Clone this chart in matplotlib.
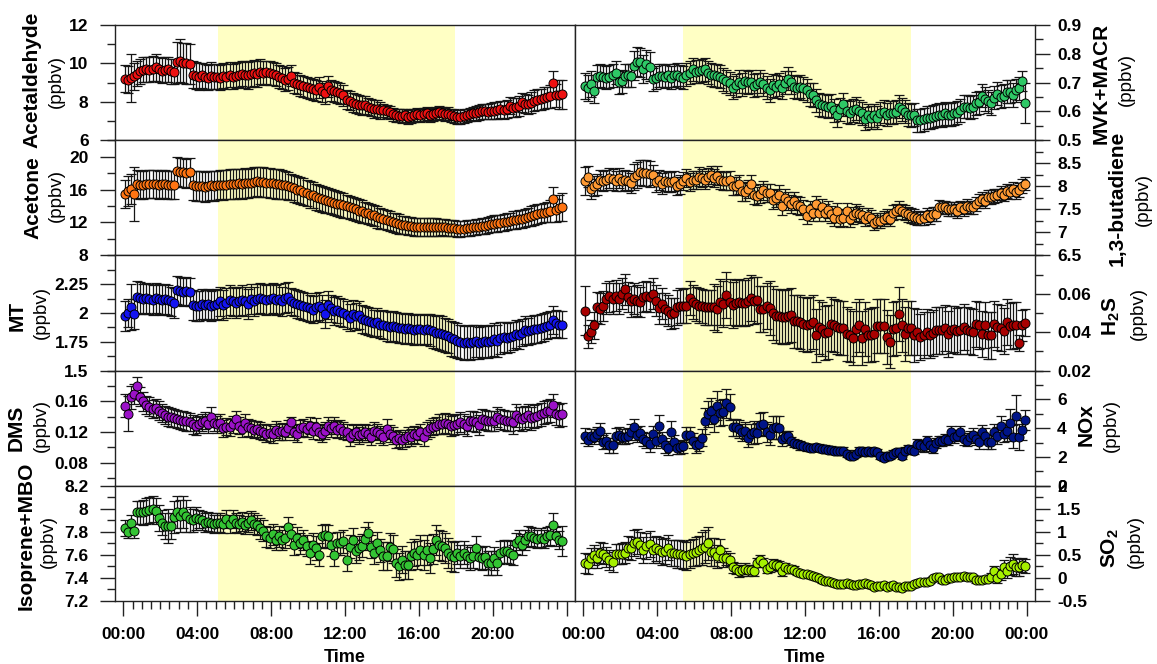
import numpy as np
import matplotlib
matplotlib.use("Agg")
import matplotlib.pyplot as plt
from matplotlib.ticker import FixedLocator, FixedFormatter, MultipleLocator

plt.rcParams['font.family'] = ['Liberation Sans', 'DejaVu Sans']
plt.rcParams['font.weight'] = 'bold'
plt.rcParams['mathtext.fontset'] = 'custom'
plt.rcParams['mathtext.rm'] = 'Liberation Sans:bold'
plt.rcParams['mathtext.bf'] = 'Liberation Sans:bold'

# 10-minute bins, hours of day
hoursLeft = (np.arange(143) * 10 + 5) / 60.0
hoursRight = (np.arange(144) * 10 + 5) / 60.0

# daytime shading (hours)
dayLeft = (5.15, 17.93)
dayRight = (5.42, 17.75)

# ---------------- left column ----------------
acetaldehyde = [
    9.2, 9.15, 9.25, 9.32, 9.45, 9.6,
    9.67, 9.7, 9.68, 9.72, 9.8, 9.7,
    9.62, 9.68, 9.7, 9.6, 9.57, 10.05,
    10.15, 10.02, 10.0, 9.98, 9.4, 9.35,
    9.3, 9.38, 9.3, 9.25, 9.35, 9.3,
    9.3, 9.25, 9.35, 9.3, 9.4, 9.3,
    9.35, 9.4, 9.45, 9.4, 9.38, 9.45,
    9.5, 9.45, 9.57, 9.5, 9.55, 9.5,
    9.45, 9.4, 9.3, 9.25, 9.15, 9.2,
    9.35, 9.0, 8.95, 8.87, 8.8, 8.75,
    8.7, 8.65, 8.6, 8.75, 8.55, 8.44,
    8.8, 8.6, 8.55, 8.5, 8.45, 8.35,
    8.1, 8.06, 7.95, 7.9, 7.85, 7.82,
    7.83, 7.75, 7.7, 7.62, 7.65, 7.55,
    7.55, 7.5, 7.45, 7.35, 7.3, 7.28,
    7.25, 7.3, 7.2, 7.25, 7.3, 7.35,
    7.3, 7.35, 7.4, 7.3, 7.35, 7.4,
    7.45, 7.4, 7.35, 7.38, 7.3, 7.25,
    7.2, 7.2, 7.25, 7.3, 7.35, 7.4,
    7.4, 7.45, 7.5, 7.5, 7.48, 7.52,
    7.54, 7.55, 7.6, 7.58, 7.62, 7.8,
    7.7, 7.72, 7.78, 7.97, 7.9, 7.88,
    7.95, 8.05, 8.1, 8.12, 8.2, 8.23,
    8.3, 8.98, 8.35, 8.38, 8.4]
acetaldehydeErr = [
    0.7, 0.7, 1.25, 0.7, 0.65, 0.65,
    0.65, 0.65, 0.65, 0.65, 0.7, 0.65,
    0.65, 0.65, 0.65, 0.65, 0.65, 1.05,
    1.1, 1.05, 1.05, 1.05, 0.7, 0.7,
    0.7, 0.65, 0.65, 0.65, 0.7, 0.65,
    0.65, 0.65, 0.65, 0.65, 0.65, 0.65,
    0.65, 0.65, 0.65, 0.7, 0.7, 0.7,
    0.7, 0.7, 0.65, 0.65, 0.6, 0.6,
    0.6, 0.6, 0.6, 0.6, 0.6, 0.6,
    0.55, 0.55, 0.55, 0.55, 0.55, 0.55,
    0.55, 0.55, 0.55, 0.55, 0.55, 0.55,
    0.55, 0.55, 0.55, 0.55, 0.55, 0.55,
    0.5, 0.5, 0.5, 0.5, 0.5, 0.5,
    0.45, 0.45, 0.45, 0.45, 0.45, 0.45,
    0.35, 0.35, 0.35, 0.35, 0.35, 0.35,
    0.35, 0.35, 0.35, 0.35, 0.35, 0.35,
    0.35, 0.35, 0.35, 0.35, 0.35, 0.35,
    0.35, 0.35, 0.35, 0.35, 0.35, 0.35,
    0.35, 0.35, 0.35, 0.35, 0.35, 0.35,
    0.4, 0.4, 0.4, 0.4, 0.4, 0.4,
    0.45, 0.45, 0.45, 0.45, 0.45, 0.45,
    0.5, 0.5, 0.5, 0.5, 0.5, 0.5,
    0.55, 0.55, 0.55, 0.55, 0.55, 0.55,
    0.6, 0.6, 0.6, 0.75, 0.75]

acetone = [
    15.45, 15.85, 16.1, 15.5, 16.65, 16.6,
    16.6, 16.65, 16.7, 16.65, 16.7, 16.6,
    16.65, 16.7, 16.6, 16.55, 16.5, 18.2,
    18.1, 18.1, 18.0, 18.1, 16.5, 16.45,
    16.4, 16.45, 16.3, 16.4, 16.5, 16.45,
    16.5, 16.6, 16.55, 16.6, 16.7, 16.65,
    16.7, 16.75, 16.7, 16.8, 16.75, 16.85,
    16.9, 17.0, 16.95, 16.9, 16.85, 16.8,
    16.75, 16.7, 16.65, 16.6, 16.5, 16.4,
    16.3, 16.15, 16.0, 15.9, 15.75, 15.6,
    15.4, 15.3, 15.1, 14.95, 14.85, 14.75,
    14.65, 14.55, 14.4, 14.3, 14.2, 14.1,
    14.0, 13.85, 13.7, 13.6, 13.45, 13.35,
    13.2, 13.1, 12.95, 12.85, 12.65, 12.5,
    12.4, 12.3, 12.2, 12.0, 11.9, 11.8,
    11.7, 11.65, 11.6, 11.55, 11.5, 11.5,
    11.45, 11.5, 11.45, 11.4, 11.5, 11.45,
    11.4, 11.45, 11.4, 11.35, 11.3, 11.3,
    11.2, 11.2, 11.25, 11.3, 11.35, 11.4,
    11.45, 11.5, 11.55, 11.6, 11.7, 11.8,
    11.85, 11.9, 11.95, 12.0, 12.1, 12.2,
    12.25, 12.3, 12.4, 12.45, 12.55, 12.65,
    12.8, 12.9, 13.0, 13.1, 13.2, 13.3,
    13.4, 14.8, 13.5, 13.8, 13.9]
acetoneErr = [
    1.7, 1.8, 1.8, 3.3, 1.7, 1.7,
    1.7, 1.7, 1.7, 1.7, 1.7, 1.7,
    1.7, 1.7, 1.7, 1.7, 1.7, 1.75,
    1.75, 1.75, 1.75, 1.75, 1.8, 1.8,
    1.8, 1.8, 1.8, 1.8, 1.8, 1.8,
    1.8, 1.8, 1.8, 1.8, 1.8, 1.8,
    1.8, 1.8, 1.8, 1.8, 1.8, 1.8,
    1.8, 1.8, 1.8, 1.8, 1.8, 1.8,
    1.8, 1.8, 1.8, 1.75, 1.7, 1.7,
    1.6, 1.6, 1.6, 1.6, 1.6, 1.6,
    1.6, 1.6, 1.6, 1.6, 1.6, 1.6,
    1.5, 1.5, 1.5, 1.5, 1.5, 1.5,
    1.4, 1.4, 1.4, 1.4, 1.4, 1.4,
    1.3, 1.3, 1.3, 1.3, 1.3, 1.3,
    1.2, 1.2, 1.2, 1.2, 1.2, 1.2,
    1.1, 1.1, 1.1, 1.1, 1.1, 1.1,
    1.1, 1.1, 1.1, 1.1, 1.1, 1.1,
    1.0, 1.0, 1.0, 1.0, 1.0, 1.0,
    0.95, 0.95, 0.95, 0.95, 0.95, 0.95,
    0.95, 0.95, 0.95, 0.95, 0.95, 0.95,
    1.0, 1.0, 1.0, 1.0, 1.0, 1.0,
    1.1, 1.1, 1.1, 1.1, 1.1, 1.1,
    1.2, 1.2, 1.2, 1.2, 1.2, 1.2,
    1.3, 1.5, 1.4, 1.6, 1.7]

mt = [
    1.97, 2.0, 2.05, 1.99, 2.14, 2.13,
    2.12, 2.13, 2.12, 2.11, 2.13, 2.12,
    2.11, 2.12, 2.11, 2.1, 2.09, 2.2,
    2.19, 2.18, 2.19, 2.18, 2.07, 2.06,
    2.06, 2.08, 2.07, 2.08, 2.06, 2.07,
    2.08, 2.1, 2.07, 2.09, 2.11, 2.1,
    2.09, 2.1, 2.11, 2.1, 2.08, 2.12,
    2.1, 2.12, 2.13, 2.12, 2.11, 2.12,
    2.13, 2.11, 2.12, 2.1, 2.13, 2.14,
    2.1, 2.09, 2.08, 2.07, 2.06, 2.05,
    2.04, 2.03, 2.05, 2.06, 2.04, 1.99,
    2.07, 2.04, 2.02, 2.03, 2.01, 2.0,
    1.98, 1.96, 1.99, 1.97, 1.98, 1.95,
    1.94, 1.93, 1.92, 1.91, 1.92, 1.9,
    1.9, 1.89, 1.88, 1.89, 1.88, 1.87,
    1.87, 1.86, 1.87, 1.86, 1.85, 1.86,
    1.86, 1.85, 1.86, 1.85, 1.84, 1.83,
    1.83, 1.82, 1.81, 1.8, 1.78, 1.77,
    1.76, 1.75, 1.74, 1.75, 1.74, 1.75,
    1.76, 1.74, 1.75, 1.76, 1.75, 1.76,
    1.77, 1.76, 1.78, 1.79, 1.78, 1.79,
    1.8, 1.82, 1.81, 1.83, 1.85, 1.84,
    1.85, 1.86, 1.86, 1.87, 1.88, 1.89,
    1.9, 1.94, 1.91, 1.9, 1.9]
mtErr = [
    0.13, 0.12, 0.2, 0.13, 0.14, 0.14,
    0.13, 0.13, 0.13, 0.13, 0.13, 0.13,
    0.13, 0.13, 0.13, 0.13, 0.13, 0.12,
    0.12, 0.12, 0.12, 0.12, 0.13, 0.13,
    0.13, 0.13, 0.13, 0.13, 0.13, 0.13,
    0.13, 0.13, 0.13, 0.13, 0.13, 0.13,
    0.13, 0.13, 0.13, 0.13, 0.13, 0.13,
    0.13, 0.13, 0.13, 0.13, 0.13, 0.13,
    0.13, 0.13, 0.13, 0.13, 0.13, 0.13,
    0.12, 0.12, 0.12, 0.12, 0.12, 0.12,
    0.12, 0.12, 0.12, 0.12, 0.12, 0.12,
    0.12, 0.12, 0.12, 0.12, 0.12, 0.12,
    0.12, 0.12, 0.12, 0.12, 0.12, 0.12,
    0.12, 0.12, 0.12, 0.12, 0.12, 0.12,
    0.13, 0.13, 0.13, 0.13, 0.13, 0.13,
    0.13, 0.13, 0.13, 0.13, 0.13, 0.13,
    0.13, 0.13, 0.13, 0.14, 0.14, 0.14,
    0.15, 0.15, 0.15, 0.15, 0.15, 0.15,
    0.15, 0.15, 0.15, 0.15, 0.15, 0.15,
    0.14, 0.14, 0.14, 0.14, 0.14, 0.14,
    0.14, 0.14, 0.14, 0.13, 0.13, 0.13,
    0.12, 0.12, 0.12, 0.12, 0.12, 0.12,
    0.12, 0.12, 0.12, 0.12, 0.12, 0.12,
    0.12, 0.12, 0.12, 0.12, 0.12]

dms = [
    0.154, 0.144, 0.165, 0.169, 0.18, 0.166,
    0.16, 0.155, 0.153, 0.15, 0.151, 0.148,
    0.145, 0.142, 0.14, 0.139, 0.138, 0.137,
    0.136, 0.135, 0.134, 0.133, 0.13, 0.128,
    0.13, 0.133, 0.135, 0.13, 0.14, 0.132,
    0.13, 0.132, 0.125, 0.127, 0.126, 0.13,
    0.137, 0.128, 0.124, 0.132, 0.126, 0.125,
    0.123, 0.124, 0.122, 0.12, 0.118, 0.119,
    0.117, 0.123, 0.12, 0.121, 0.12, 0.125,
    0.133, 0.12, 0.118, 0.125, 0.126, 0.124,
    0.128, 0.122, 0.127, 0.12, 0.118, 0.122,
    0.128, 0.125, 0.128, 0.123, 0.125, 0.122,
    0.12, 0.113, 0.118, 0.12, 0.116, 0.118,
    0.12, 0.118, 0.114, 0.122, 0.12, 0.117,
    0.114, 0.124, 0.118, 0.115, 0.11, 0.112,
    0.109, 0.112, 0.115, 0.113, 0.117, 0.116,
    0.12, 0.113, 0.122, 0.125, 0.127, 0.128,
    0.13, 0.131, 0.132, 0.13, 0.128, 0.129,
    0.131, 0.133, 0.13, 0.128, 0.135, 0.134,
    0.133, 0.129, 0.137, 0.136, 0.135, 0.134,
    0.134, 0.14, 0.137, 0.136, 0.134, 0.135,
    0.133, 0.142, 0.138, 0.137, 0.139, 0.142,
    0.138, 0.14, 0.141, 0.143, 0.145, 0.147,
    0.148, 0.155, 0.144, 0.142, 0.143]
dmsErr = [
    0.015, 0.023, 0.015, 0.013, 0.012, 0.012,
    0.012, 0.012, 0.012, 0.012, 0.012, 0.012,
    0.012, 0.012, 0.012, 0.012, 0.012, 0.012,
    0.012, 0.012, 0.012, 0.012, 0.012, 0.012,
    0.011, 0.011, 0.011, 0.011, 0.013, 0.011,
    0.011, 0.011, 0.011, 0.011, 0.011, 0.011,
    0.011, 0.011, 0.011, 0.011, 0.011, 0.011,
    0.011, 0.011, 0.011, 0.011, 0.011, 0.011,
    0.011, 0.011, 0.011, 0.011, 0.011, 0.011,
    0.007, 0.011, 0.011, 0.011, 0.011, 0.011,
    0.011, 0.011, 0.011, 0.011, 0.011, 0.011,
    0.011, 0.011, 0.011, 0.011, 0.011, 0.011,
    0.011, 0.011, 0.011, 0.011, 0.011, 0.011,
    0.011, 0.011, 0.011, 0.011, 0.011, 0.011,
    0.011, 0.013, 0.011, 0.011, 0.011, 0.011,
    0.011, 0.011, 0.011, 0.011, 0.011, 0.011,
    0.011, 0.011, 0.011, 0.011, 0.011, 0.011,
    0.013, 0.013, 0.013, 0.013, 0.013, 0.013,
    0.013, 0.013, 0.013, 0.013, 0.013, 0.013,
    0.013, 0.013, 0.013, 0.013, 0.013, 0.013,
    0.013, 0.013, 0.013, 0.013, 0.013, 0.013,
    0.015, 0.015, 0.015, 0.015, 0.015, 0.015,
    0.015, 0.015, 0.015, 0.015, 0.015, 0.015,
    0.015, 0.015, 0.015, 0.015, 0.015]

isoprene = [
    7.83, 7.8, 7.88, 7.81, 7.97, 7.97,
    7.97, 7.98, 7.99, 8.0, 7.98, 7.92,
    7.88, 7.85, 7.85, 7.85, 7.93, 7.97,
    7.94, 7.97, 7.94, 7.91, 7.9, 7.92,
    7.91, 7.9, 7.88, 7.89, 7.88, 7.87,
    7.88, 7.88, 7.87, 7.91, 7.87, 7.91,
    7.88, 7.87, 7.89, 7.86, 7.88, 7.9,
    7.87, 7.86, 7.83, 7.81, 7.76, 7.75,
    7.78, 7.73, 7.76, 7.73, 7.75, 7.84,
    7.78, 7.69, 7.75, 7.7, 7.73, 7.68,
    7.62, 7.69, 7.66, 7.6, 7.76, 7.77,
    7.76, 7.69, 7.6, 7.7, 7.7, 7.72,
    7.56, 7.67, 7.73, 7.63, 7.66, 7.68,
    7.74, 7.79, 7.67, 7.62, 7.7, 7.64,
    7.59, 7.59, 7.67, 7.65, 7.53, 7.5,
    7.56, 7.51, 7.51, 7.59, 7.62, 7.6,
    7.64, 7.6, 7.64, 7.57, 7.65, 7.73,
    7.69, 7.68, 7.66, 7.62, 7.59, 7.58,
    7.62, 7.59, 7.62, 7.59, 7.57, 7.59,
    7.66, 7.58, 7.57, 7.58, 7.53, 7.53,
    7.57, 7.53, 7.62, 7.63, 7.63, 7.62,
    7.6, 7.7, 7.73, 7.69, 7.73, 7.76,
    7.76, 7.75, 7.74, 7.75, 7.74, 7.76,
    7.77, 7.86, 7.76, 7.73, 7.72]
isopreneErr = [
    0.07, 0.05, 0.07, 0.06, 0.1, 0.1,
    0.11, 0.11, 0.11, 0.11, 0.11, 0.11,
    0.11, 0.11, 0.15, 0.11, 0.14, 0.14,
    0.14, 0.14, 0.14, 0.11, 0.1, 0.1,
    0.08, 0.08, 0.08, 0.08, 0.08, 0.08,
    0.08, 0.08, 0.08, 0.08, 0.08, 0.08,
    0.08, 0.08, 0.08, 0.08, 0.08, 0.08,
    0.09, 0.09, 0.09, 0.09, 0.09, 0.09,
    0.09, 0.09, 0.09, 0.09, 0.09, 0.09,
    0.09, 0.09, 0.09, 0.09, 0.09, 0.09,
    0.1, 0.1, 0.1, 0.1, 0.1, 0.1,
    0.1, 0.1, 0.1, 0.1, 0.1, 0.1,
    0.1, 0.1, 0.1, 0.1, 0.1, 0.1,
    0.1, 0.1, 0.1, 0.1, 0.1, 0.1,
    0.12, 0.12, 0.12, 0.12, 0.12, 0.12,
    0.12, 0.12, 0.12, 0.12, 0.12, 0.12,
    0.13, 0.13, 0.13, 0.13, 0.13, 0.13,
    0.13, 0.13, 0.13, 0.13, 0.13, 0.13,
    0.1, 0.1, 0.1, 0.1, 0.1, 0.1,
    0.1, 0.1, 0.1, 0.1, 0.1, 0.1,
    0.1, 0.1, 0.1, 0.1, 0.1, 0.1,
    0.09, 0.09, 0.09, 0.09, 0.09, 0.09,
    0.08, 0.08, 0.08, 0.08, 0.08, 0.08,
    0.08, 0.1, 0.08, 0.08, 0.13]

# ---------------- right column ----------------
mvk = [
    0.689, 0.68, 0.694, 0.67, 0.72, 0.724,
    0.72, 0.717, 0.72, 0.726, 0.735, 0.701,
    0.705, 0.724, 0.726, 0.724, 0.759, 0.772,
    0.77, 0.747, 0.763, 0.755, 0.712, 0.717,
    0.724, 0.724, 0.72, 0.726, 0.717, 0.726,
    0.728, 0.72, 0.717, 0.728, 0.735, 0.747,
    0.738, 0.74, 0.743, 0.747, 0.735, 0.728,
    0.726, 0.724, 0.72, 0.712, 0.705, 0.697,
    0.682, 0.691, 0.703, 0.694, 0.705, 0.701,
    0.703, 0.689, 0.694, 0.703, 0.694, 0.682,
    0.674, 0.691, 0.685, 0.694, 0.682, 0.7,
    0.714, 0.701, 0.685, 0.682, 0.685, 0.68,
    0.674, 0.659, 0.657, 0.639, 0.624, 0.621,
    0.619, 0.616, 0.619, 0.604, 0.587, 0.608,
    0.624, 0.601, 0.596, 0.604, 0.61, 0.601,
    0.593, 0.575, 0.587, 0.578, 0.587, 0.578,
    0.593, 0.599, 0.589, 0.596, 0.596, 0.599,
    0.616, 0.608, 0.599, 0.589, 0.587, 0.589,
    0.57, 0.57, 0.573, 0.578, 0.578, 0.582,
    0.585, 0.589, 0.587, 0.593, 0.589, 0.589,
    0.593, 0.596, 0.604, 0.616, 0.616, 0.612,
    0.616, 0.628, 0.631, 0.654, 0.643, 0.636,
    0.628, 0.647, 0.662, 0.651, 0.654, 0.668,
    0.668, 0.657, 0.674, 0.68, 0.705, 0.628]
mvkErr = [
    0.045, 0.045, 0.045, 0.04, 0.04, 0.04,
    0.04, 0.04, 0.04, 0.04, 0.04, 0.04,
    0.04, 0.04, 0.04, 0.04, 0.05, 0.05,
    0.05, 0.05, 0.05, 0.05, 0.04, 0.04,
    0.04, 0.04, 0.04, 0.04, 0.04, 0.04,
    0.04, 0.04, 0.04, 0.04, 0.04, 0.04,
    0.04, 0.04, 0.04, 0.04, 0.04, 0.04,
    0.04, 0.04, 0.04, 0.04, 0.04, 0.04,
    0.04, 0.04, 0.04, 0.04, 0.04, 0.04,
    0.04, 0.04, 0.04, 0.04, 0.04, 0.04,
    0.04, 0.04, 0.04, 0.04, 0.04, 0.04,
    0.04, 0.04, 0.04, 0.04, 0.04, 0.04,
    0.04, 0.04, 0.04, 0.04, 0.04, 0.04,
    0.04, 0.04, 0.04, 0.04, 0.04, 0.04,
    0.04, 0.04, 0.04, 0.04, 0.04, 0.04,
    0.04, 0.04, 0.04, 0.04, 0.04, 0.04,
    0.04, 0.04, 0.04, 0.04, 0.04, 0.04,
    0.04, 0.04, 0.04, 0.04, 0.04, 0.04,
    0.04, 0.04, 0.04, 0.04, 0.04, 0.04,
    0.04, 0.04, 0.04, 0.04, 0.04, 0.04,
    0.04, 0.04, 0.04, 0.04, 0.04, 0.04,
    0.04, 0.04, 0.04, 0.04, 0.04, 0.04,
    0.04, 0.04, 0.04, 0.04, 0.04, 0.04,
    0.04, 0.04, 0.04, 0.04, 0.035, 0.07]

butadiene = [
    8.11, 8.21, 7.94, 8.0, 8.04, 8.14,
    8.11, 8.14, 8.18, 8.15, 8.11, 8.18,
    8.11, 8.14, 8.11, 8.07, 8.2, 8.25,
    8.3, 8.29, 8.28, 8.27, 8.25, 8.09,
    8.14, 8.06, 8.11, 8.09, 8.1, 8.11,
    8.0, 8.04, 8.11, 8.18, 8.09, 8.14,
    8.14, 8.21, 8.18, 8.14, 8.2, 8.25,
    8.18, 8.23, 8.14, 8.11, 8.12, 8.13,
    8.01, 8.0, 8.04, 7.89, 7.87, 7.94,
    8.04, 7.82, 7.79, 7.84, 7.91, 7.86,
    7.86, 7.71, 7.75, 7.82, 7.57, 7.75,
    7.68, 7.61, 7.68, 7.59, 7.57, 7.5,
    7.36, 7.5, 7.43, 7.61, 7.43, 7.54,
    7.43, 7.49, 7.39, 7.32, 7.46, 7.3,
    7.32, 7.46, 7.3, 7.37, 7.43, 7.4,
    7.37, 7.29, 7.36, 7.32, 7.21, 7.25,
    7.25, 7.3, 7.34, 7.29, 7.43, 7.46,
    7.51, 7.46, 7.43, 7.39, 7.36, 7.34,
    7.32, 7.3, 7.32, 7.37, 7.34, 7.39,
    7.39, 7.56, 7.54, 7.54, 7.51, 7.5,
    7.5, 7.46, 7.54, 7.5, 7.57, 7.54,
    7.54, 7.61, 7.68, 7.73, 7.68, 7.77,
    7.77, 7.79, 7.8, 7.86, 7.82, 7.89,
    7.87, 7.94, 7.87, 7.92, 8.0, 8.06]
butadieneErr = [
    0.3, 0.22, 0.22, 0.22, 0.22, 0.22,
    0.22, 0.22, 0.22, 0.22, 0.22, 0.22,
    0.22, 0.22, 0.22, 0.22, 0.28, 0.28,
    0.28, 0.28, 0.28, 0.28, 0.22, 0.22,
    0.22, 0.22, 0.22, 0.22, 0.22, 0.22,
    0.2, 0.2, 0.2, 0.2, 0.2, 0.2,
    0.2, 0.2, 0.2, 0.2, 0.2, 0.2,
    0.2, 0.2, 0.2, 0.2, 0.2, 0.2,
    0.2, 0.2, 0.2, 0.2, 0.2, 0.2,
    0.2, 0.2, 0.2, 0.2, 0.2, 0.2,
    0.2, 0.2, 0.2, 0.2, 0.2, 0.2,
    0.2, 0.2, 0.2, 0.2, 0.2, 0.2,
    0.18, 0.18, 0.18, 0.18, 0.18, 0.18,
    0.18, 0.18, 0.18, 0.18, 0.18, 0.18,
    0.18, 0.18, 0.18, 0.18, 0.18, 0.18,
    0.16, 0.16, 0.16, 0.16, 0.16, 0.16,
    0.16, 0.16, 0.16, 0.16, 0.16, 0.16,
    0.16, 0.16, 0.16, 0.16, 0.16, 0.16,
    0.15, 0.15, 0.15, 0.15, 0.15, 0.15,
    0.15, 0.15, 0.15, 0.15, 0.15, 0.15,
    0.15, 0.15, 0.15, 0.15, 0.15, 0.15,
    0.15, 0.15, 0.15, 0.15, 0.15, 0.15,
    0.15, 0.15, 0.15, 0.15, 0.15, 0.15,
    0.15, 0.15, 0.15, 0.15, 0.15, 0.15]

h2s = [
    0.0513, 0.0379, 0.0403, 0.0435, 0.053, 0.0522,
    0.0536, 0.0574, 0.0586, 0.0574, 0.0591, 0.0574,
    0.06, 0.0623, 0.0583, 0.056, 0.0574, 0.0565,
    0.0557, 0.0583, 0.0588, 0.0583, 0.06, 0.0565,
    0.0525, 0.0548, 0.0522, 0.0513, 0.0496, 0.05,
    0.053, 0.0539, 0.0536, 0.0539, 0.0577, 0.0557,
    0.0548, 0.0539, 0.0536, 0.053, 0.053, 0.053,
    0.053, 0.0522, 0.0557, 0.0548, 0.0595, 0.0557,
    0.0543, 0.0553, 0.0557, 0.0553, 0.0553, 0.056,
    0.0577, 0.0565, 0.057, 0.0522, 0.0522, 0.0536,
    0.0525, 0.05, 0.0483, 0.0483, 0.0478, 0.0478,
    0.0483, 0.049, 0.0456, 0.0456, 0.0452, 0.0443,
    0.0438, 0.0443, 0.0452, 0.0383, 0.0426, 0.0417,
    0.0396, 0.04, 0.0443, 0.0435, 0.0426, 0.0421,
    0.0421, 0.0391, 0.0383, 0.0369, 0.0417, 0.0435,
    0.0369, 0.0417, 0.0383, 0.0386, 0.0391, 0.0431,
    0.0431, 0.0431, 0.0374, 0.0351, 0.0417, 0.0421,
    0.0496, 0.0435, 0.0391, 0.0421, 0.0421, 0.0386,
    0.04, 0.0374, 0.0386, 0.04, 0.0386, 0.0396,
    0.0409, 0.0409, 0.0409, 0.0421, 0.0391, 0.0414,
    0.0417, 0.0404, 0.0409, 0.0426, 0.0409, 0.0404,
    0.04, 0.0443, 0.0435, 0.0391, 0.0438, 0.0383,
    0.0383, 0.0443, 0.0426, 0.0421, 0.0404, 0.0452,
    0.0431, 0.0435, 0.0438, 0.0344, 0.0435, 0.0449]
h2sErr = [
    0.013, 0.006, 0.006, 0.007, 0.008, 0.008,
    0.008, 0.008, 0.008, 0.008, 0.008, 0.008,
    0.008, 0.008, 0.008, 0.008, 0.008, 0.008,
    0.008, 0.008, 0.008, 0.008, 0.008, 0.008,
    0.008, 0.008, 0.008, 0.008, 0.008, 0.008,
    0.009, 0.009, 0.009, 0.009, 0.009, 0.009,
    0.009, 0.009, 0.009, 0.009, 0.009, 0.009,
    0.012, 0.012, 0.012, 0.012, 0.012, 0.012,
    0.012, 0.012, 0.012, 0.012, 0.012, 0.012,
    0.012, 0.012, 0.012, 0.012, 0.012, 0.012,
    0.014, 0.014, 0.014, 0.014, 0.014, 0.014,
    0.014, 0.014, 0.014, 0.014, 0.014, 0.014,
    0.014, 0.014, 0.014, 0.014, 0.014, 0.014,
    0.014, 0.014, 0.014, 0.014, 0.014, 0.014,
    0.014, 0.014, 0.014, 0.014, 0.014, 0.014,
    0.014, 0.014, 0.014, 0.014, 0.014, 0.014,
    0.014, 0.014, 0.014, 0.014, 0.014, 0.014,
    0.014, 0.014, 0.014, 0.014, 0.014, 0.014,
    0.012, 0.012, 0.012, 0.012, 0.012, 0.012,
    0.012, 0.012, 0.012, 0.012, 0.012, 0.012,
    0.012, 0.012, 0.012, 0.012, 0.012, 0.012,
    0.012, 0.012, 0.012, 0.012, 0.012, 0.012,
    0.012, 0.012, 0.012, 0.012, 0.012, 0.012,
    0.012, 0.012, 0.012, 0.004, 0.008, 0.007]

nox = [
    3.49, 3.19, 3.49, 3.42, 3.61, 3.79,
    3.03, 3.14, 2.8, 2.8, 3.49, 3.56,
    3.42, 3.42, 3.49, 3.72, 4.07, 3.56,
    3.65, 3.26, 3.14, 2.87, 3.61, 3.14,
    4.12, 3.26, 2.8, 2.64, 3.72, 3.03,
    2.64, 2.68, 2.73, 3.56, 3.56, 3.14,
    2.8, 2.91, 3.33, 4.49, 4.99, 5.18,
    4.65, 5.57, 5.04, 5.11, 5.73, 5.46,
    4.07, 4.07, 3.95, 3.72, 3.84, 3.31,
    3.61, 3.72, 3.65, 4.25, 4.3, 3.72,
    3.56, 4.02, 4.07, 4.02, 3.26, 3.38,
    3.49, 3.1, 2.96, 2.91, 2.8, 2.73,
    2.68, 2.64, 2.64, 2.68, 2.64, 2.57,
    2.57, 2.5, 2.5, 2.45, 2.45, 2.4,
    2.45, 2.22, 2.1, 2.1, 2.22, 2.45,
    2.4, 2.34, 2.45, 2.34, 2.4, 2.34,
    2.1, 1.94, 2.1, 2.1, 2.22, 2.34,
    2.34, 2.1, 2.45, 2.57, 2.5, 2.45,
    2.91, 2.8, 2.73, 3.1, 2.8, 2.64,
    2.96, 3.1, 3.14, 3.26, 3.19, 3.72,
    3.38, 3.49, 3.72, 3.26, 3.14, 3.38,
    3.56, 3.26, 3.03, 3.72, 3.49, 3.03,
    3.03, 3.72, 3.49, 4.12, 3.61, 3.84,
    4.35, 3.42, 4.88, 3.42, 3.88, 4.58]
noxErr = [
    0.5, 0.45, 0.45, 0.5, 0.5, 0.55,
    0.5, 0.5, 0.5, 0.5, 0.5, 0.5,
    0.5, 0.5, 0.5, 0.55, 0.55, 0.5,
    0.5, 0.5, 0.5, 0.5, 0.55, 0.5,
    0.8, 0.5, 0.5, 0.5, 0.75, 0.5,
    0.45, 0.45, 0.45, 0.5, 0.5, 0.5,
    0.5, 0.5, 0.6, 0.9, 0.9, 0.9,
    0.9, 1.0, 0.9, 0.9, 1.0, 0.9,
    0.6, 0.6, 0.6, 0.6, 0.6, 0.6,
    0.7, 0.8, 0.7, 0.8, 0.8, 0.7,
    0.7, 0.8, 0.8, 0.8, 0.5, 0.4,
    0.3, 0.3, 0.3, 0.3, 0.3, 0.25,
    0.25, 0.25, 0.25, 0.25, 0.25, 0.25,
    0.25, 0.25, 0.25, 0.25, 0.25, 0.25,
    0.25, 0.25, 0.25, 0.25, 0.25, 0.25,
    0.25, 0.25, 0.25, 0.25, 0.25, 0.25,
    0.25, 0.25, 0.25, 0.25, 0.25, 0.25,
    0.25, 0.25, 0.25, 0.25, 0.25, 0.25,
    0.35, 0.35, 0.35, 0.35, 0.35, 0.35,
    0.35, 0.35, 0.35, 0.35, 0.35, 0.4,
    0.4, 0.4, 0.4, 0.4, 0.4, 0.4,
    0.45, 0.45, 0.45, 0.5, 0.5, 0.5,
    0.5, 0.6, 0.6, 0.7, 0.6, 0.7,
    1.0, 0.8, 1.4, 0.9, 0.7, 0.7]

so2 = [
    0.33, 0.31, 0.44, 0.5, 0.44, 0.55,
    0.53, 0.45, 0.39, 0.35, 0.52, 0.52,
    0.53, 0.55, 0.66, 0.64, 0.75, 0.79,
    0.71, 0.6, 0.69, 0.74, 0.6, 0.64,
    0.6, 0.57, 0.59, 0.66, 0.55, 0.55,
    0.52, 0.52, 0.5, 0.48, 0.52, 0.55,
    0.57, 0.6, 0.64, 0.68, 0.75, 0.57,
    0.57, 0.47, 0.6, 0.44, 0.44, 0.4,
    0.23, 0.2, 0.15, 0.17, 0.2, 0.17,
    0.18, 0.15, 0.33, 0.39, 0.33, 0.2,
    0.23, 0.31, 0.28, 0.26, 0.15, 0.23,
    0.2, 0.2, 0.18, 0.13, 0.11, 0.09,
    0.09, 0.06, 0.04, 0.02, -0.01, -0.04,
    -0.06, -0.07, -0.09, -0.12, -0.14, -0.14,
    -0.14, -0.12, -0.14, -0.16, -0.16, -0.14,
    -0.14, -0.12, -0.14, -0.16, -0.2, -0.18,
    -0.18, -0.16, -0.2, -0.18, -0.16, -0.2,
    -0.2, -0.21, -0.18, -0.18, -0.17, -0.14,
    -0.11, -0.09, -0.09, -0.09, -0.06, -0.01,
    0.01, 0.01, -0.04, -0.04, -0.01, 0.0,
    0.01, 0.02, 0.02, 0.04, 0.01, 0.01,
    0.01, -0.04, -0.05, -0.05, -0.02, -0.02,
    0.02, 0.15, -0.01, 0.08, 0.23, 0.15,
    0.26, 0.3, 0.24, 0.23, 0.28, 0.26]
so2Err = [
    0.22, 0.22, 0.22, 0.22, 0.22, 0.22,
    0.22, 0.22, 0.22, 0.22, 0.22, 0.22,
    0.22, 0.22, 0.25, 0.25, 0.28, 0.28,
    0.28, 0.28, 0.28, 0.28, 0.28, 0.28,
    0.28, 0.28, 0.28, 0.28, 0.28, 0.28,
    0.3, 0.3, 0.3, 0.3, 0.3, 0.3,
    0.32, 0.32, 0.35, 0.35, 0.35, 0.3,
    0.3, 0.25, 0.25, 0.2, 0.15, 0.15,
    0.12, 0.12, 0.12, 0.12, 0.12, 0.12,
    0.1, 0.1, 0.1, 0.1, 0.1, 0.1,
    0.1, 0.1, 0.1, 0.1, 0.1, 0.1,
    0.08, 0.08, 0.08, 0.07, 0.07, 0.07,
    0.06, 0.06, 0.06, 0.06, 0.06, 0.06,
    0.05, 0.05, 0.05, 0.05, 0.05, 0.05,
    0.05, 0.05, 0.05, 0.05, 0.05, 0.05,
    0.05, 0.05, 0.05, 0.05, 0.05, 0.05,
    0.05, 0.05, 0.05, 0.05, 0.05, 0.05,
    0.05, 0.05, 0.05, 0.05, 0.05, 0.05,
    0.05, 0.05, 0.05, 0.05, 0.05, 0.05,
    0.06, 0.06, 0.06, 0.06, 0.06, 0.06,
    0.06, 0.06, 0.06, 0.06, 0.06, 0.06,
    0.06, 0.06, 0.06, 0.06, 0.06, 0.06,
    0.08, 0.1, 0.1, 0.12, 0.15, 0.15,
    0.2, 0.22, 0.2, 0.18, 0.15, 0.15]

# axis settings
xTickHours = [0, 4, 8, 12, 16, 20, 24]
xTickLabelsLeft = ['00:00', '04:00', '08:00', '12:00', '16:00', '20:00', '']
xTickLabelsRight = ['00:00', '04:00', '08:00', '12:00', '16:00', '20:00', '00:00']

# each panel: data, colour, y range, ticks, minor step, name, label pixel positions
panels = [
    dict(col=0, row=0, t=hoursLeft, y=acetaldehyde, e=acetaldehydeErr, c='#ee1111',
         ylim=(6, 12), ticks=[6, 8, 10, 12], labels=['6', '8', '10', '12'], minor=1,
         name='Acetaldehyde', namePx=(32, 80), unitPx=(56, 82)),
    dict(col=0, row=1, t=hoursLeft, y=acetone, e=acetoneErr, c='#ff7412',
         ylim=(8, 22), ticks=[8, 12, 16, 20], labels=['8', '12', '16', '20'], minor=2,
         name='Acetone', namePx=(33, 198), unitPx=(56, 195)),
    dict(col=0, row=2, t=hoursLeft, y=mt, e=mtErr, c='#1414f0',
         ylim=(1.5, 2.5), ticks=[1.5, 1.75, 2, 2.25], labels=['1.5', '1.75', '2', '2.25'], minor=0.125,
         name='MT', namePx=(17, 316), unitPx=(41, 312)),
    dict(col=0, row=3, t=hoursLeft, y=dms, e=dmsErr, c='#9b12c8',
         ylim=(0.05, 0.2), ticks=[0.08, 0.12, 0.16], labels=['0.08', '0.12', '0.16'], minor=0.02,
         name='DMS', namePx=(16, 428), unitPx=(41, 425)),
    dict(col=0, row=4, t=hoursLeft, y=isoprene, e=isopreneErr, c='#33c433',
         ylim=(7.2, 8.2), ticks=[7.2, 7.4, 7.6, 7.8, 8.0, 8.2],
         labels=['7.2', '7.4', '7.6', '7.8', '8', '8.2'], minor=0.1,
         name='Isoprene+MBO', namePx=(26, 536), unitPx=(48, 541)),
    dict(col=1, row=0, t=hoursRight, y=mvk, e=mvkErr, c='#2ec866',
         ylim=(0.5, 0.9), ticks=[0.5, 0.6, 0.7, 0.8, 0.9], labels=['0.5', '0.6', '0.7', '0.8', '0.9'],
         minor=0.05, name='MVK+MACR', namePx=(1101, 83), unitPx=(1126, 80)),
    dict(col=1, row=1, t=hoursRight, y=butadiene, e=butadieneErr, c='#ff9a33',
         ylim=(6.5, 9), ticks=[6.5, 7, 7.5, 8, 8.5], labels=['6.5', '7', '7.5', '8', '8.5'],
         minor=0.25, name='1,3-butadiene', namePx=(1117, 198), unitPx=(1143, 200)),
    dict(col=1, row=2, t=hoursRight, y=h2s, e=h2sErr, c='#a80000',
         ylim=(0.02, 0.08), ticks=[0.02, 0.04, 0.06], labels=['0.02', '0.04', '0.06'],
         minor=0.01, name=r'H$_\mathbf{2}$S', namePx=(1111, 316), unitPx=(1138, 313)),
    dict(col=1, row=3, t=hoursRight, y=nox, e=noxErr, c='#001488',
         ylim=(0, 8), ticks=[0, 2, 4, 6], labels=['0', '2', '4', '6'],
         minor=1, name='NOx', namePx=(1086, 425), unitPx=(1111, 425)),
    dict(col=1, row=4, t=hoursRight, y=so2, e=so2Err, c='#a6f000',
         ylim=(-0.5, 2), ticks=[-0.5, 0, 0.5, 1, 1.5, 2], labels=['-0.5', '0', '0.5', '1', '1.5', '2'],
         minor=0.25, name=r'SO$_\mathbf{2}$', namePx=(1110, 548), unitPx=(1135, 542)),
]

W, H = 1157, 664
colX = [(115, 575), (575, 1035)]
rowY = [25, 140.2, 255.4, 370.6, 485.8, 601]

fig = plt.figure(figsize=(W / 100, H / 100), dpi=100)

for p in panels:
    x0, x1 = colX[p['col']]
    yTop, yBot = rowY[p['row']], rowY[p['row'] + 1]
    ax = fig.add_axes([x0 / W, 1 - yBot / H, (x1 - x0) / W, (yBot - yTop) / H])

    span = dayLeft if p['col'] == 0 else dayRight
    ax.axvspan(span[0], span[1], color='#ffffc4', lw=0, zorder=0)

    ax.errorbar(p['t'], p['y'], yerr=p['e'], fmt='none', ecolor='#151515',
                elinewidth=0.9, capsize=3.8, capthick=0.9, zorder=2)
    ax.plot(p['t'], p['y'], 'o', ms=6.5, mfc=p['c'], mec='black', mew=0.7, zorder=3)

    ax.set_xlim(-0.45, 24.45)
    ax.set_ylim(*p['ylim'])

    for s in ax.spines.values():
        s.set_linewidth(1.0)
        s.set_color('#222222')

    ax.yaxis.set_major_locator(FixedLocator(p['ticks']))
    ax.yaxis.set_major_formatter(FixedFormatter(p['labels']))
    ax.yaxis.set_minor_locator(MultipleLocator(p['minor']))
    if p['col'] == 1:
        ax.yaxis.tick_right()
        ax.tick_params(axis='y', which='both', left=False, right=True)
        ax.tick_params(axis='y', which='major', pad=5)
    else:
        ax.tick_params(axis='y', which='major', pad=8)
    ax.tick_params(axis='y', which='major', length=11, width=1.0, labelsize=12.5, color='#222222')
    ax.tick_params(axis='y', which='minor', length=5.5, width=1.0, color='#222222')

    if p['row'] == 4:
        ax.xaxis.set_major_locator(FixedLocator(xTickHours))
        ax.xaxis.set_major_formatter(FixedFormatter(
            xTickLabelsLeft if p['col'] == 0 else xTickLabelsRight))
        ax.xaxis.set_minor_locator(MultipleLocator(0.5))
        ax.tick_params(axis='x', which='major', length=11, width=1.0, labelsize=12.5, pad=8,
                       color='#222222')
        ax.tick_params(axis='x', which='minor', length=5.5, width=1.0, color='#222222')
        ax.set_xlabel('Time', fontsize=13, fontweight='bold', labelpad=5)
    else:
        ax.tick_params(axis='x', which='both', bottom=False, labelbottom=False)

    # species name (bold) and unit line
    nx, ny = p['namePx']
    fig.text(nx / W, 1 - ny / H, p['name'], rotation=90, ha='center', va='center',
             fontsize=15, fontweight='bold')
    ux, uy = p['unitPx']
    fig.text(ux / W, 1 - uy / H, '(ppbv)', rotation=90, ha='center', va='center',
             fontsize=13.5, fontweight='normal')

fig.savefig('out.png', dpi=100)
